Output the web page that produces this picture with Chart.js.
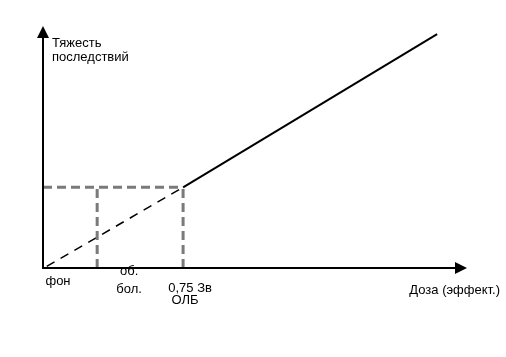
<!DOCTYPE html>
<html>
<head>
<meta charset="utf-8">
<script src="https://cdn.jsdelivr.net/npm/chart.js@4/dist/chart.umd.min.js"></script>
<style>
html,body{margin:0;padding:0;background:#fff;}
#wrap{width:506px;height:357px;position:relative;}
</style>
</head>
<body>
<div id="wrap"><canvas id="c" width="506" height="357"></canvas></div>
<script>
// ---- data ----
const yAxisTitle = ['Тяжесть', 'последствий'];
const xAxisTitle = 'Доза (эффект.)';
const markX = [0, 0.29, 0.75];
const markLabels = [['фон'], ['об.', 'бол.'], ['0,75 Зв', 'ОЛБ']];
const thresholdY = 1.0;
const responseX = [0.75, 2.11];
const responseY = [1.0, 2.9];
const linearX = [0.02, 0.75];
const linearY = [0.02, 1.0];
const xMax = 2.27;
const yMax = 3.0;

const pts = (xs, ys) => xs.map((x, i) => ({x: x, y: ys[i]}));
const grey = '#7a7a7a';
const FONT = '13px "Liberation Sans", Arial, sans-serif';

const axesPlugin = {
  id: 'axesArrows',
  afterDatasetsDraw(chart) {
    const ctx = chart.ctx, xs = chart.scales.x, ys = chart.scales.y;
    const x0 = xs.getPixelForValue(0), y0 = ys.getPixelForValue(0);
    const xEnd = xs.getPixelForValue(xMax), yEnd = ys.getPixelForValue(yMax);
    ctx.save();
    ctx.strokeStyle = '#000'; ctx.fillStyle = '#000'; ctx.lineWidth = 2;
    // y axis
    ctx.beginPath(); ctx.moveTo(x0, y0 + 1); ctx.lineTo(x0, yEnd + 10); ctx.stroke();
    ctx.beginPath(); ctx.moveTo(x0, yEnd); ctx.lineTo(x0 - 6, yEnd + 12); ctx.lineTo(x0 + 6, yEnd + 12); ctx.closePath(); ctx.fill();
    // x axis
    ctx.beginPath(); ctx.moveTo(x0 - 1, y0); ctx.lineTo(xEnd - 10, y0); ctx.stroke();
    ctx.beginPath(); ctx.moveTo(xEnd, y0); ctx.lineTo(xEnd - 12, y0 - 6); ctx.lineTo(xEnd - 12, y0 + 6); ctx.closePath(); ctx.fill();
    // texts
    ctx.font = FONT; ctx.textBaseline = 'alphabetic'; ctx.textAlign = 'left';
    ctx.fillText(yAxisTitle[0], x0 + 9, yEnd + 21);
    ctx.fillText(yAxisTitle[1], x0 + 9, yEnd + 35);
    ctx.textAlign = 'right';
    ctx.fillText(xAxisTitle, xEnd + 33, y0 + 26);
    const offs = [{dx: 15, dy: 17, lh: 18}, {dx: 32, dy: 7, lh: 18}, {dx: 7, dy: 24, lh: 12}];
    ctx.textAlign = 'center';
    markX.forEach((v, i) => {
      const px = xs.getPixelForValue(v);
      markLabels[i].forEach((t, j) => {
        const shift = (i === 2 && j === 1) ? -5 : 0;
        ctx.fillText(t, px + offs[i].dx + shift, y0 + offs[i].dy + j * offs[i].lh);
      });
    });
    ctx.restore();
  }
};

const vertData = [];
markX.slice(1).forEach(v => { vertData.push({x: v, y: 0}, {x: v, y: thresholdY}, {x: NaN, y: NaN}); });

new Chart(document.getElementById('c'), {
  type: 'scatter',
  data: {
    datasets: [
      {data: [{x: 0, y: thresholdY}, {x: markX[2], y: thresholdY}], showLine: true, borderColor: grey, borderWidth: 3, borderDash: [9, 5], pointRadius: 0, clip: false},
      {data: vertData, showLine: true, spanGaps: false, borderColor: grey, borderWidth: 3, borderDash: [9, 5], pointRadius: 0, clip: false},
      {data: pts(linearX, linearY), showLine: true, borderColor: '#000', borderWidth: 1.5, borderDash: [9, 7], pointRadius: 0, clip: false},
      {data: pts(responseX, responseY), showLine: true, borderColor: '#000', borderWidth: 2, pointRadius: 0, clip: false}
    ]
  },
  options: {
    responsive: false,
    animation: false,
    events: [],
    layout: {padding: {left: 43, top: 26, right: 39, bottom: 89}},
    plugins: {legend: {display: false}, tooltip: {enabled: false}},
    scales: {
      x: {type: 'linear', min: 0, max: xMax, display: false},
      y: {type: 'linear', min: 0, max: yMax, display: false}
    }
  },
  plugins: [axesPlugin]
});
</script>
</body>
</html>
